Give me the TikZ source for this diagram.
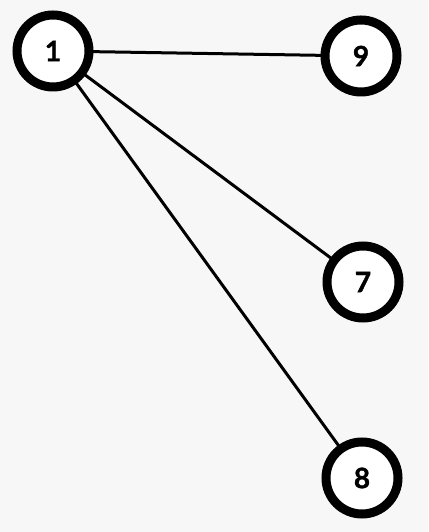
\documentclass[tikz,border=0pt]{standalone}
\usepackage{fontspec}
\setmainfont{Lato}[BoldFeatures={FakeBold=1.5}]
\begin{document}
\begin{tikzpicture}[x=1pt,y=1pt,
  vert/.style={circle,draw=black,line width=9pt,fill=white,minimum size=72pt,inner sep=0pt,font=\fontsize{28}{32}\selectfont\bfseries},
  edge/.style={line width=3pt,draw=black}]
\fill[gray!6] (0,0) rectangle (428,532);
\useasboundingbox (0,0) rectangle (428,532);
\coordinate (p1) at (53,481);
\coordinate (p9) at (361,476);
\coordinate (p7) at (363,250);
\coordinate (p8) at (362,54);
\draw[edge] (p1) -- (p9);
\draw[edge] (p1) -- (p7);
\draw[edge] (p1) -- (p8);
\node[vert] (n1) at (p1) {1};
\node[vert] (n9) at (p9) {9};
\node[vert] (n7) at (p7) {7};
\node[vert] (n8) at (p8) {8};
\end{tikzpicture}
\end{document}
